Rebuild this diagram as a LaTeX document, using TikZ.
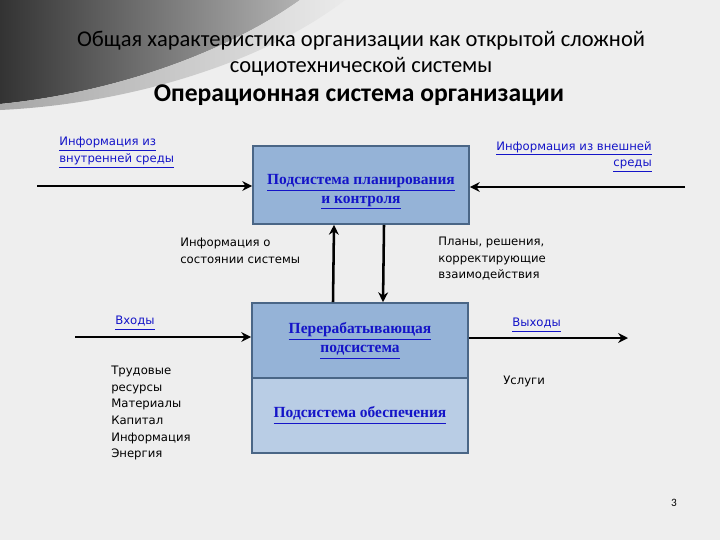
\documentclass[tikz,border=0pt]{standalone}
\usepackage{fontspec}
\setmainfont{Carlito}
\newfontfamily\labelfont{DejaVu Sans}
\newfontfamily\boxfont{Liberation Serif}
\usepackage{tikz}
\usetikzlibrary{arrows.meta, positioning, calc}
\usepackage{xcolor}
\definecolor{slidebg}{RGB}{238,238,238}
\definecolor{boxblue}{RGB}{149,179,215}
\definecolor{boxlight}{RGB}{185,205,229}
\definecolor{boxedge}{RGB}{74,102,134}
\definecolor{linkblue}{RGB}{20,20,200}
\newcommand{\lnk}[1]{\underline{\vphantom{gy}#1}}

\begin{document}
\begin{tikzpicture}[
  x=0.025cm, y=-0.025cm, >={Stealth[length=7pt, width=7pt]},
  subsys/.style={rectangle, draw=boxedge, line width=1.2pt, minimum width=5.4cm,
                 minimum height=1.875cm, align=center, text=linkblue,
                 font=\boxfont\bfseries\fontsize{11}{13.5}\selectfont},
  boxtext/.style={align=center, text=linkblue,
                  font=\boxfont\bfseries\fontsize{11}{13}\selectfont},
  link/.style={text=linkblue, font=\labelfont\fontsize{8.3}{11.8}\selectfont},
  note/.style={text=black, font=\labelfont\fontsize{8.3}{11.8}\selectfont},
  flow/.style={->, line width=1.8pt},
]
% background and header
\fill[slidebg] (0,0) rectangle (720,540);
\useasboundingbox (0,0) rectangle (720,540);
\path[left color=black!80, right color=black!30]
  (0,0) -- (300,0) .. controls (230,50) and (120,92) .. (0,104) -- cycle;
\path[left color=black!35, right color=black!8]
  (300,0) -- (345,0) .. controls (265,62) and (130,104) .. (0,110) -- (0,104)
  .. controls (120,92) and (230,50) .. (300,0) -- cycle;
\node[font=\fontsize{16}{18}\selectfont] (title1) at (361,41)
  {Общая характеристика организации как открытой сложной};
\node[font=\fontsize{16}{18}\selectfont] (title2) at (361,67)
  {социотехнической системы};
\node[font=\bfseries\fontsize{18.2}{20}\selectfont] (title3) at (359,95)
  {Операционная система организации};

% subsystems
\node[subsys, fill=boxblue, minimum height=1.95cm] (plan) at (361,185) {};
\node[boxtext] (plantext) at (361,192)
  {\lnk{Подсистема планирования}\\\lnk{и контроля}};
\node[subsys, fill=boxblue] (proc) at (360,340.5)
  {\lnk{Перерабатывающая}\\\lnk{подсистема}};
\node[subsys, fill=boxlight] (supp) at (360,415.5)
  {\lnk{Подсистема обеспечения}};

% labels
\node[link, align=left, anchor=north west, inner sep=0pt] (intlab) at (59,137)
  {\lnk{Информация из}\\\lnk{внутренней среды}};
\node[link, align=right, anchor=north east, inner sep=0pt] (extlab) at (652,141)
  {\lnk{Информация из внешней}\\\lnk{среды}};
\node[note, align=left, anchor=north west, inner sep=0pt] (statelab) at (180,238)
  {Информация о\\состоянии системы};
\node[note, align=left, anchor=north west, inner sep=0pt] (planlab) at (438,237)
  {Планы, решения,\\корректирующие\\взаимодействия};
\node[link, anchor=north west, inner sep=0pt] (inlab) at (115,316) {\lnk{Входы}};
\node[link, anchor=north west, inner sep=0pt] (outlab) at (512,318) {\lnk{Выходы}};
\node[note, anchor=north west, inner sep=0pt] (servlab) at (503,376) {Услуги};
\node[note, align=left, anchor=north west, inner sep=0pt] (reslab) at (111,366)
  {Трудовые\\ресурсы\\Материалы\\Капитал\\Информация\\Энергия};
\node[note, font=\fontsize{8}{10}\selectfont] (pagenum) at (674,503) {3};

% connectors
\coordinate (intsrc) at (37,186);
\coordinate (extsrc) at (685,187);
\coordinate (insrc) at (75,337);
\coordinate (outdst) at (628,338);
\draw[flow] (intsrc) -- (intsrc -| plan.west);
\draw[flow] (extsrc) -- (extsrc -| plan.east);
\draw[flow] ([xshift=-0.675cm]proc.north) -- ([xshift=-0.675cm]plan.south);
\draw[flow] ([xshift=0.575cm]plan.south) -- ([xshift=0.575cm]proc.north);
\draw[flow] (insrc) -- (insrc -| proc.west);
\draw[flow] (outdst -| proc.east) -- (outdst);
\end{tikzpicture}
\end{document}
